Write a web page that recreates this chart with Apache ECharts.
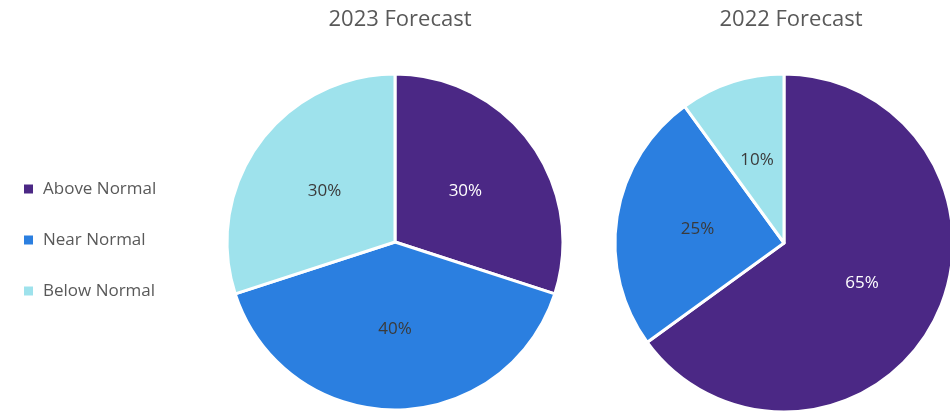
<!DOCTYPE html>
<html><head><meta charset="utf-8">
<script src="https://cdn.jsdelivr.net/npm/echarts@6/dist/echarts.min.js"></script>
<style>html,body{margin:0;padding:0;background:#fff}#c{width:950px;height:412px}</style>
</head><body><div id="c"></div>
<script>
const categories = ['Above Normal', 'Near Normal', 'Below Normal'];
const values2023 = [30, 40, 30];
const values2022 = [65, 25, 10];
const titles = ['2023 Forecast', '2022 Forecast'];
const colors = ['#4B2885', '#2B7FE0', '#9EE2EC'];
const labelColors = ['#ffffff', '#3a3a3a', '#3a3a3a'];
const font = 'Open Sans';

function mk(vals) {
  return categories.map((n, i) => ({
    name: n, value: vals[i],
    itemStyle: { color: colors[i] },
    label: { color: labelColors[i] }
  }));
}
const chart = echarts.init(document.getElementById('c'));
chart.setOption({
  animation: false,
  textStyle: { fontFamily: font },
  title: [
    { text: titles[0], left: 395, top: 4, textAlign: 'center', textStyle: { fontFamily: font, fontSize: 22, fontWeight: 'normal', color: '#595959' } },
    { text: titles[1], left: 786, top: 4, textAlign: 'center', textStyle: { fontFamily: font, fontSize: 22, fontWeight: 'normal', color: '#595959' } }
  ],
  legend: {
    orient: 'vertical', left: 17, top: 174, itemGap: 31,
    itemWidth: 11, itemHeight: 11, icon: 'rect',
    data: categories,
    textStyle: { fontFamily: font, fontSize: 17, lineHeight: 20, color: '#595959', padding: [0, 0, 0, 4] }
  },
  series: [
    {
      type: 'pie', center: [395, 242], radius: 168, startAngle: 90, clockwise: true,
      itemStyle: { borderColor: '#fff', borderWidth: 3 },
      label: { position: 'inside', formatter: '{c}%', fontSize: 17, fontFamily: font },
      labelLine: { show: false }, emphasis: { disabled: true },
      data: mk(values2023)
    },
    {
      type: 'pie', center: [784, 243], radius: 169, startAngle: 90, clockwise: true,
      itemStyle: { borderColor: '#fff', borderWidth: 3 },
      label: { position: 'inside', formatter: '{c}%', fontSize: 17, fontFamily: font },
      labelLine: { show: false }, emphasis: { disabled: true },
      data: mk(values2022)
    }
  ]
});
</script></body></html>
